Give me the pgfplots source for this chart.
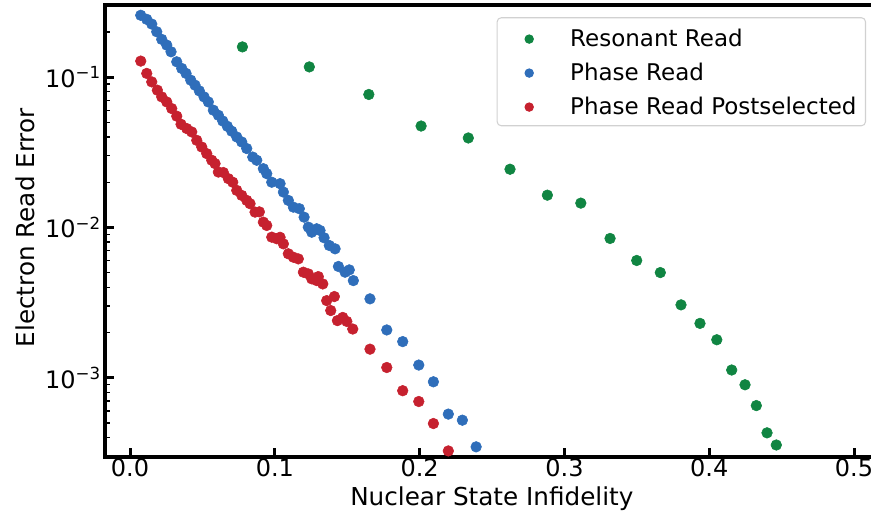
\documentclass[border=0pt]{standalone}
\usepackage{fontspec}
\setmainfont{DejaVu Sans}
\usepackage{pgfplots}
\pgfplotsset{compat=1.18}
\usetikzlibrary{calc}
\definecolor{cgreen}{RGB}{16,133,66}
\definecolor{cblue}{RGB}{47,110,186}
\definecolor{cred}{RGB}{198,33,47}
\newcommand{\tenexp}[1]{10\raisebox{6.5pt}{\fontsize{12.5}{12.5}\selectfont −#1}}
\begin{document}
\begin{tikzpicture}
\begin{axis}[
  scale only axis, width=574.5pt, height=339pt,
  ymode=log,
  xmin=-0.0173, xmax=0.5117, ymin=2.97e-4, ymax=0.302,
  axis x line*=box, axis y line*=left,
  axis line style={-, line width=2.5pt, line cap=rect},
  tick align=inside, tick pos=left,
  major tick length=6.75pt, minor tick length=3.5pt,
  major tick style={line width=2.3pt, black},
  minor tick style={line width=1pt, black},
  xtick={0,0.1,0.2,0.3,0.4,0.5},
  xticklabels={0.0,0.1,0.2,0.3,0.4,0.5},
  ytick={1e-3,1e-2,1e-1},
  yticklabels={\tenexp{3},\tenexp{2},\tenexp{1}},
  minor ytick={3e-4,4e-4,5e-4,6e-4,7e-4,8e-4,9e-4,2e-3,3e-3,4e-3,5e-3,6e-3,7e-3,8e-3,9e-3,2e-2,3e-2,4e-2,5e-2,6e-2,7e-2,8e-2,9e-2,2e-1,3e-1},
  tick label style={font=\fontsize{18}{21}\selectfont},
  xticklabel style={yshift=2.5pt},
  label style={font=\fontsize{18.5}{22}\selectfont},
  xlabel={Nuclear State Infidelity},
  ylabel={Electron Read Error},
  xlabel style={at={(axis description cs:0.505,-0.108)}, anchor=base},
  ylabel style={at={(axis description cs:-0.1044,0.507)}, anchor=center},
  legend cell align=left,
  legend image code/.code={\path[draw=none,fill=none,sharp corners] (0pt,-4pt) rectangle (48pt,4pt);
     \draw[#1, mark size=3.1pt] plot coordinates {(17.25pt,0pt)};},
  legend style={at={(0.9935,0.973)}, anchor=north east,
     draw=black!18, line width=0.8pt, rounded corners=3pt, fill=white,
     font=\fontsize{17.25}{20}\selectfont,
     inner xsep=6.75pt, inner ysep=8.5pt, row sep=12.5pt,
     nodes={text height=13pt, text depth=0pt, inner sep=0pt, yshift=1pt}},
]
\coordinate (sw) at (rel axis cs:0,0);
% Resonant Read
\addplot[only marks, mark=*, mark size=4pt, color=cgreen] coordinates {
(0.0776,0.159) (0.1238,0.117) (0.1649,0.0767) (0.2010,0.0473) (0.2336,0.0394)
(0.2624,0.0244) (0.2882,0.0164) (0.3113,0.01452) (0.3315,0.00845) (0.3499,0.00603)
(0.3662,0.00501) (0.3805,0.003055) (0.3936,0.0023) (0.4052,0.00179) (0.4155,0.001126)
(0.4247,0.000898) (0.4325,0.000653) (0.4399,0.00043) (0.4463,0.000357)
};
\addlegendentry{Resonant Read}
% Phase Read
\addplot[only marks, mark=*, mark size=4pt, color=cblue] coordinates {
(0.00739,0.258) (0.01153,0.2425) (0.01499,0.2256) (0.01844,0.2004) (0.02189,0.1784)
(0.02535,0.1634) (0.02831,0.1475) (0.03225,0.1265) (0.03570,0.1143) (0.03867,0.1059)
(0.04192,0.0955) (0.04489,0.08845) (0.04786,0.0810) (0.05110,0.0739) (0.05407,0.0684)
(0.05753,0.0603) (0.06098,0.0558) (0.06402,0.0511) (0.06720,0.0471) (0.07023,0.0437)
(0.07369,0.0400) (0.07714,0.03705) (0.08059,0.0335) (0.08474,0.0294) (0.0875,0.0280)
(0.09206,0.0246) (0.0944,0.0228) (0.09786,0.0200) (0.1036,0.01956) (0.1059,0.0172)
(0.1093,0.01514) (0.1128,0.01365) (0.1169,0.01333) (0.1202,0.01171) (0.1231,0.01005)
(0.1255,0.0093) (0.1289,0.0098) (0.1312,0.00955) (0.1340,0.00854) (0.1376,0.00759)
(0.1416,0.00721) (0.1439,0.0055) (0.1485,0.00504) (0.1514,0.00522) (0.1542,0.00443)
(0.1657,0.00335) (0.1773,0.00208) (0.1883,0.00174) (0.1994,0.001215) (0.2095,0.00094)
(0.2198,0.000573) (0.2295,0.000522) (0.2390,0.000347)
};
\addlegendentry{Phase Read}
% Phase Read Postselected
\addplot[only marks, mark=*, mark size=4pt, color=cred] coordinates {
(0.00739,0.1279) (0.01153,0.1059) (0.01499,0.0930) (0.01885,0.0819) (0.02189,0.0739)
(0.02535,0.0684) (0.0288,0.0618) (0.03225,0.0550) (0.03522,0.0486) (0.03916,0.0455)
(0.04261,0.0432) (0.04606,0.0380) (0.04952,0.0343) (0.05297,0.0310) (0.05642,0.0280)
(0.0587,0.0266) (0.06098,0.02337) (0.06443,0.0232) (0.06789,0.02112) (0.07092,0.0200)
(0.07369,0.01765) (0.07714,0.01634) (0.08059,0.01514) (0.08287,0.01439) (0.08633,0.01265)
(0.0893,0.0127) (0.09206,0.01085) (0.0944,0.01031) (0.09786,0.00862) (0.1013,0.00841)
(0.1036,0.0086) (0.1059,0.00778) (0.1093,0.00668) (0.1128,0.00634) (0.1162,0.00618)
(0.1197,0.00504) (0.1231,0.00491) (0.1255,0.00455) (0.1300,0.00471) (0.1289,0.00443)
(0.1331,0.00421) (0.1358,0.00326) (0.1411,0.00347) (0.1386,0.0028) (0.1432,0.0024)
(0.1469,0.00252) (0.1497,0.00237) (0.1538,0.00211)
(0.1657,0.00155) (0.1773,0.00117) (0.1883,0.00082) (0.1994,0.000695) (0.2095,0.000496)
(0.2198,0.000326)
};
\addlegendentry{Phase Read Postselected}
\end{axis}
\pgfresetboundingbox
\path[use as bounding box] ($(sw)+(-78.75pt,-45.75pt)$) rectangle ($(sw)+(574.5pt,342.75pt)$);
\end{tikzpicture}
\end{document}
